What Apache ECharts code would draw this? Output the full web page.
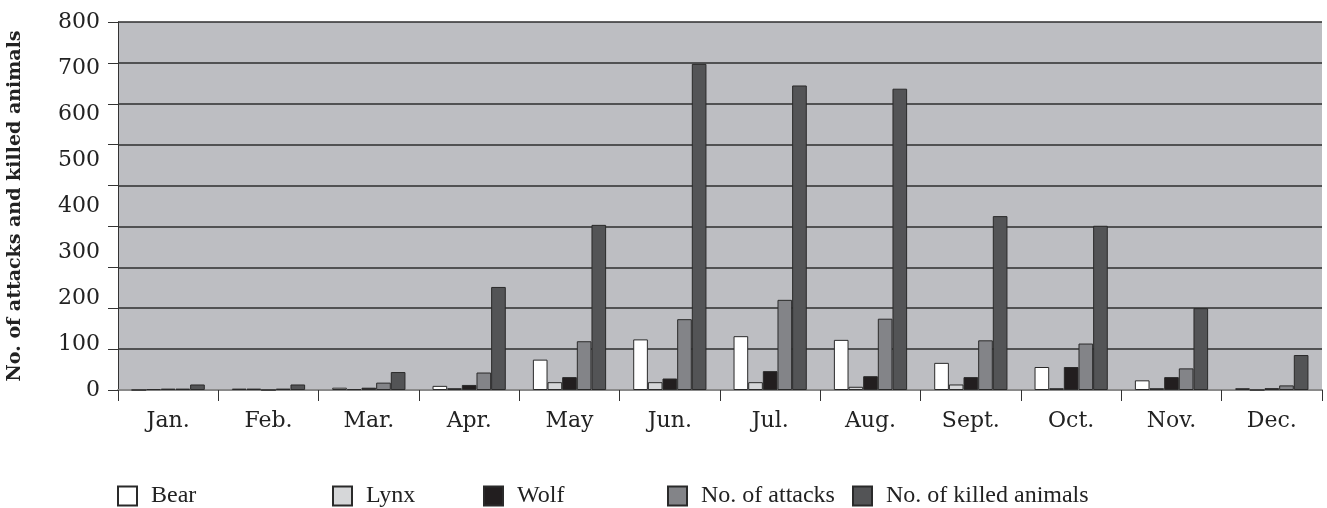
<!DOCTYPE html>
<html>
<head>
<meta charset="utf-8">
<script src="https://cdn.jsdelivr.net/npm/echarts@6/dist/echarts.min.js"></script>
<style>
  html, body { margin: 0; padding: 0; background: #ffffff; }
  #chart { width: 1327px; height: 508px; }
</style>
</head>
<body>
<div id="chart"></div>
<script>
// Monthly predator attacks and killed animals
const months = ['Jan.', 'Feb.', 'Mar.', 'Apr.', 'May', 'Jun.', 'Jul.', 'Aug.', 'Sept.', 'Oct.', 'Nov.', 'Dec.'];
const bear    = [0, 3, 5, 9, 66, 110, 117, 109, 59, 50, 21, 4];
const lynx    = [2, 3, 2, 4, 17, 17, 17, 7, 12, 4, 4, 0];
const wolf    = [3, 0, 5, 11, 28, 25, 41, 30, 28, 50, 28, 4];
const attacks = [3, 3, 16, 38, 106, 154, 196, 155, 108, 101, 47, 10];
const killed  = [12, 12, 39, 224, 359, 709, 662, 655, 378, 357, 178, 76];
const yTicks  = [0, 100, 200, 300, 400, 500, 600, 700, 800];

const seriesDefs = [
  { name: 'Bear', data: bear, color: '#ffffff' },
  { name: 'Lynx', data: lynx, color: '#d6d7d9' },
  { name: 'Wolf', data: wolf, color: '#221e1f' },
  { name: 'No. of attacks', data: attacks, color: '#838488' },
  { name: 'No. of killed animals', data: killed, color: '#535456' }
];

const serif = '"DejaVu Serif", "Liberation Serif", serif';
const legendFont = '"Liberation Serif", "Times New Roman", serif';
const legendLeft = [117, 332, 483, 667, 852];

const chart = echarts.init(document.getElementById('chart'), null, { renderer: 'canvas' });

chart.setOption({
  animation: false,
  backgroundColor: '#ffffff',
  grid: {
    left: 118, right: 5, top: 22, bottom: 118,
    containLabel: false,
    outerBoundsMode: 'none',
    show: true, backgroundColor: '#bdbec2', borderWidth: 0
  },
  legend: seriesDefs.map((s, i) => ({
    data: [s.name],
    left: legendLeft[i],
    top: 484,
    padding: 0,
    itemWidth: 19,
    itemHeight: 19,
    itemGap: 0,
    icon: 'rect',
    textStyle: { fontFamily: legendFont, fontSize: 24, color: '#222222', padding: [0, 0, 0, 9] },
    selectedMode: false
  })),
  xAxis: {
    type: 'category',
    data: months,
    boundaryGap: true,
    axisLine: { show: true, lineStyle: { color: '#8a8a8a', width: 2 } },
    axisTick: { show: true, alignWithLabel: false, length: 11, lineStyle: { color: '#333333', width: 1 } },
    axisLabel: { fontFamily: serif, fontSize: 22, color: '#222222', margin: 20 },
    splitLine: { show: false }
  },
  yAxis: [
    {
      type: 'value',
      min: 0, max: 800, interval: 100,
      name: 'No. of attacks and killed animals',
      nameLocation: 'middle',
      nameRotate: 90,
      nameGap: 93,
      nameTextStyle: { fontFamily: serif, fontWeight: 'bold', fontSize: 19, color: '#222222' },
      axisLine: { show: false },
      axisTick: { show: false },
      splitLine: { show: false },
      axisLabel: {
        fontFamily: serif, fontSize: 22, color: '#222222', margin: 18,
        formatter: v => (yTicks.indexOf(v) >= 0 ? String(v) : '')
      }
    },
    {
      // grid and tick scale for the plot frame
      type: 'value',
      position: 'left',
      min: 0, max: 900, interval: 100,
      axisLine: { show: true, lineStyle: { color: '#333333', width: 1 } },
      axisTick: { show: true, inside: false, length: 10, lineStyle: { color: '#333333', width: 1 } },
      axisLabel: { show: false },
      splitLine: { show: true, lineStyle: { color: '#2e2e2e', width: 1.5 } }
    }
  ],
  series: seriesDefs.map(s => ({
    name: s.name,
    type: 'bar',
    yAxisIndex: 0,
    data: s.data,
    barGap: '0%',
    barCategoryGap: '27%',
    itemStyle: { color: s.color, borderColor: '#2a2a2a', borderWidth: 1 }
  }))
});
</script>
</body>
</html>
